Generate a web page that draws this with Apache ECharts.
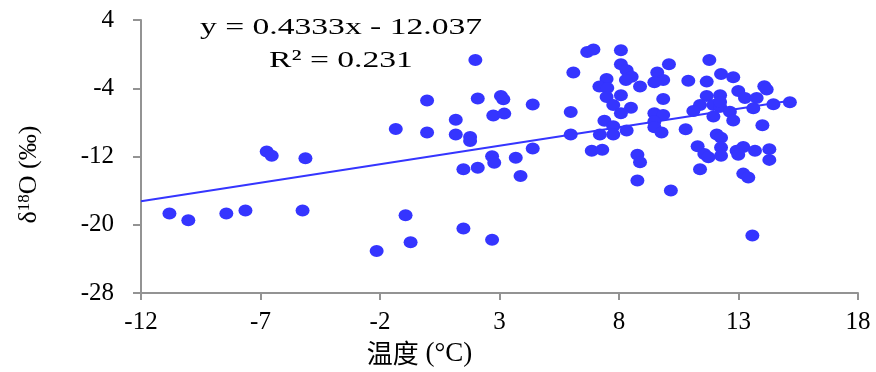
<!DOCTYPE html>
<html>
<head>
<meta charset="utf-8">
<script src="https://cdn.jsdelivr.net/npm/echarts@6/dist/echarts.min.js"></script>
<style>
html,body{margin:0;padding:0;background:#fff;}
#c{width:876px;height:372px;}
</style>
</head>
<body>
<div id="c"></div>
<script>
// Temperature (°C)
const tempValues = [
  -10.81, -10.02, -8.43, -7.63, -6.74, -6.53, -5.12, -5.24, -2.14, -1.34,
  -0.93, -0.72, -0.03, -0.03, 1.17, 1.17, 1.77, 1.77, 1.99, 2.09,
  1.49, 2.09, 1.49, 2.69, 2.69, 2.78, 2.74, 3.06, 3.16, 3.20,
  4.39, 4.39, 3.68, 3.88, 6.09, 5.98, 5.98, 6.67, 6.93, 8.08,
  8.08, 8.32, 8.53, 8.29, 7.48, 7.18, 7.51, 8.88, 7.48, 8.08,
  7.76, 8.50, 8.08, 7.39, 7.76, 7.20, 7.76, 8.32, 6.86, 7.30,
  8.77, 8.88, 8.77, 10.17, 9.60, 9.85, 9.48, 10.09, 9.85, 9.48,
  9.85, 9.48, 9.48, 9.78, 10.79, 10.90, 11.78, 11.67, 12.27, 12.78,
  12.99, 13.27, 13.76, 14.08, 14.18, 11.67, 12.23, 11.39, 11.11, 11.95,
  12.23, 12.64, 11.95, 12.78, 13.62, 14.46, 15.15, 14.00, 12.09, 12.27,
  11.29, 11.57, 11.74, 12.27, 12.27, 12.92, 13.20, 12.99, 13.69, 14.29,
  14.29, 11.39, 13.20, 13.41, 13.58, 12.23
];
// δ18O (‰)
const d18OValues = [
  -18.66, -19.47, -18.66, -18.32, -11.40, -11.90, -12.20, -18.32, -23.06, -8.76,
  -18.89, -22.03, -5.44, -9.18, -7.69, -9.41, -9.72, -10.18, -0.70, -5.21,
  -13.50, -13.31, -20.42, -21.76, -11.97, -12.74, -7.20, -4.90, -5.28, -6.97,
  -5.90, -11.06, -12.13, -14.27, -2.15, -6.78, -9.41, 0.26, 0.53, 0.45,
  -1.19, -1.88, -2.65, -3.03, -2.91, -3.79, -3.98, -3.79, -5.02, -4.83,
  -5.97, -6.28, -6.93, -7.81, -8.46, -9.41, -9.41, -8.95, -11.32, -11.21,
  -11.78, -12.66, -14.80, -15.99, -2.15, -3.03, -3.30, -1.19, -5.25, -6.93,
  -7.12, -7.88, -8.57, -9.18, -8.80, -3.11, -0.70, -3.22, -2.34, -2.72,
  -4.33, -5.13, -5.13, -3.76, -4.14, -4.90, -4.83, -5.97, -6.66, -5.97,
  -6.16, -6.74, -7.31, -7.77, -6.35, -5.86, -5.63, -8.34, -9.41, -9.80,
  -10.79, -11.71, -12.09, -10.94, -11.90, -11.32, -10.87, -11.78, -11.32, -11.13,
  -12.39, -13.50, -14.00, -14.46, -21.26, -5.60
];
// Trendline as labelled on the chart
const trendSlope = 0.4333;
const trendIntercept = -12.037;
const trendText = ['y = 0.4333x - 12.037', 'R² = 0.231'];
const xAxisRange = [-12, 18, 5];
const yAxisRange = [-28, 4, 8];

const points = tempValues.map((x, i) => [x, d18OValues[i]]);
const xEnd = Math.max(...tempValues);
const trendLine = [xAxisRange[0], xEnd].map(x => [x, trendSlope * x + trendIntercept]);

const serif = '"Liberation Serif", "Times New Roman", serif';
const blue = '#3535ff';
const axisGray = '#939393';

const chart = echarts.init(document.getElementById('c'), null, {renderer: 'canvas'});
chart.setOption({
  animation: false,
  backgroundColor: '#ffffff',
  grid: {left: 141, right: 18, top: 20, bottom: 73},
  xAxis: {
    type: 'value',
    min: xAxisRange[0], max: xAxisRange[1], interval: xAxisRange[2],
    splitLine: {show: false},
    axisLine: {show: true, onZero: false, lineStyle: {color: axisGray, width: 2}},
    axisTick: {show: true, length: 7, lineStyle: {color: axisGray, width: 2}},
    axisLabel: {color: '#000', fontFamily: serif, fontSize: 25, margin: 17},
    name: '{c|温度}{a| (°C)}',
    nameLocation: 'middle',
    nameGap: 44,
    nameTextStyle: {
      padding: [0, 160, 0, 0],
      rich: {
        c: {fontFamily: '"Noto Sans CJK SC"', fontSize: 26, color: '#000'},
        a: {fontFamily: serif, fontSize: 27, color: '#000'}
      }
    }
  },
  yAxis: {
    type: 'value',
    min: yAxisRange[0], max: yAxisRange[1], interval: yAxisRange[2],
    splitLine: {show: false},
    axisLine: {show: true, onZero: false, lineStyle: {color: axisGray, width: 2}},
    axisTick: {show: true, length: 8, lineStyle: {color: axisGray, width: 2}},
    axisLabel: {color: '#000', fontFamily: serif, fontSize: 25, margin: 27},
    name: '{a|δ}{s|18}{a|O (‰)}',
    nameLocation: 'middle',
    nameRotate: 90,
    nameGap: 98,
    nameTextStyle: {
      padding: [0, 36, 0, 0],
      rich: {
        a: {fontFamily: serif, fontSize: 26, color: '#000'},
        s: {fontFamily: serif, fontSize: 17, color: '#000', padding: [0, 0, 10, 0]}
      }
    }
  },
  graphic: [
    {type: 'text', x: 341, y: 28, scaleX: 1.40, silent: true,
     style: {text: trendText[0], font: '24px ' + serif, fill: '#000', align: 'center', verticalAlign: 'middle'}},
    {type: 'text', x: 341, y: 61, scaleX: 1.40, silent: true,
     style: {text: trendText[1], font: '24px ' + serif, fill: '#000', align: 'center', verticalAlign: 'middle'}}
  ],
  series: [
    {
      type: 'line',
      data: trendLine,
      showSymbol: false,
      lineStyle: {color: blue, width: 2},
      z: 1,
      silent: true
    },
    {
      type: 'scatter',
      data: points,
      symbol: 'circle',
      symbolSize: [14, 12],
      itemStyle: {color: blue, opacity: 1},
      z: 2
    }
  ]
});
</script>
</body>
</html>
